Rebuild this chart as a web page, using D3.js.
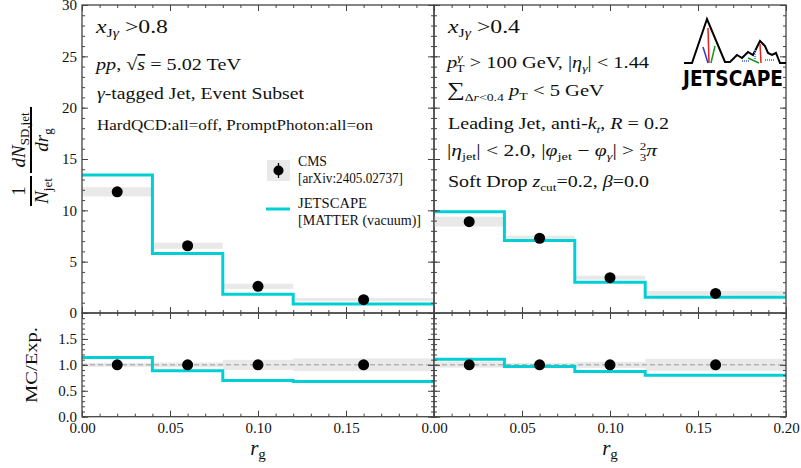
<!DOCTYPE html>
<html>
<head>
<meta charset="utf-8">
<script src="https://cdn.jsdelivr.net/npm/d3@7"></script>
<style>
  html, body { margin: 0; padding: 0; background: #fff; }
  svg text { font-family: "Liberation Serif", "DejaVu Serif", serif; fill: #111; }
</style>
</head>
<body>
<svg id="chart" width="801" height="468"></svg>
<script>
// r_g bins (edges) and bin centres
const binEdges = [0, 0.04, 0.08, 0.12, 0.20];
const binCentres = [0.02, 0.06, 0.10, 0.16];

// x_Jγ > 0.8 panel
const cmsA = [11.8, 6.55, 2.6, 1.3];
const cmsAErr = [0.45, 0.3, 0.25, 0.16];
const jsA = [13.45, 5.8, 1.82, 0.88];

// x_Jγ > 0.4 panel
const cmsB = [8.9, 7.28, 3.44, 1.91];
const cmsBErr = [0.48, 0.25, 0.2, 0.22];
const jsB = [9.85, 7.05, 3.0, 1.53];

const yTicksMain = [0, 5, 10, 15, 20, 25, 30];
const yTicksRatio = [0.0, 0.5, 1.0, 1.5];
const xTicks = [0.00, 0.05, 0.10, 0.15, 0.20];

const CYAN = "#00cfd6";
const BAND = "#e9e9e9";
const FRAME = "#444";

const svg = d3.select("#chart");

const yMain = d3.scaleLinear().domain([0, 30]).range([313, 5]);
const yRat = d3.scaleLinear().domain([0, 2]).range([416.7, 313]);

const panels = [
  { x0: 82, x1: 434, cms: cmsA, err: cmsAErr, js: jsA, yLabels: true, lastX: false },
  { x0: 434, x1: 786, cms: cmsB, err: cmsBErr, js: jsB, yLabels: false, lastX: true }
];

function drawAxes(g, x, y, yMajor, yMinorStep, yFmt, showY, showX, lastX) {
  const [yLo, yHi] = y.domain();
  const yMinor = d3.range(yLo, yHi + 1e-9, yMinorStep);
  const xMinor = d3.range(0, 0.2001, 0.01);
  const [r0, r1] = x.range();
  const [b, t] = y.range();

  g.append("g").attr("transform", `translate(${r0},0)`)
    .call(d3.axisLeft(y).tickValues(yMajor).tickSize(-6).tickSizeOuter(0).tickPadding(5)
      .tickFormat(showY ? yFmt : ""));
  g.append("g").attr("transform", `translate(${r0},0)`)
    .call(d3.axisLeft(y).tickValues(yMinor).tickSize(-3).tickSizeOuter(0).tickFormat(""));
  g.append("g").attr("transform", `translate(${r1},0)`)
    .call(d3.axisRight(y).tickValues(yMajor).tickSize(-6).tickSizeOuter(0).tickFormat(""));
  g.append("g").attr("transform", `translate(${r1},0)`)
    .call(d3.axisRight(y).tickValues(yMinor).tickSize(-3).tickSizeOuter(0).tickFormat(""));
  const xs = lastX ? xTicks : xTicks.slice(0, -1);
  g.append("g").attr("transform", `translate(0,${b})`)
    .call(d3.axisBottom(x).tickValues(xTicks).tickSize(-6).tickSizeOuter(0).tickPadding(6)
      .tickFormat(d => (showX && xs.some(v => Math.abs(v - d) < 1e-9)) ? d3.format(".2f")(d) : ""));
  g.append("g").attr("transform", `translate(0,${b})`)
    .call(d3.axisBottom(x).tickValues(xMinor).tickSize(-3).tickSizeOuter(0).tickFormat(""));
  g.append("g").attr("transform", `translate(0,${t})`)
    .call(d3.axisTop(x).tickValues(xTicks).tickSize(-6).tickSizeOuter(0).tickFormat(""));
  g.append("g").attr("transform", `translate(0,${t})`)
    .call(d3.axisTop(x).tickValues(xMinor).tickSize(-3).tickSizeOuter(0).tickFormat(""));

  g.selectAll(".domain").remove();
  g.selectAll(".tick line").attr("stroke", FRAME).attr("stroke-width", 1);
  g.selectAll(".tick text").attr("font-family", "Liberation Serif, serif").attr("font-size", 15).attr("fill", "#222");

  g.append("rect").attr("x", r0).attr("y", t).attr("width", r1 - r0).attr("height", b - t)
    .attr("fill", "none").attr("stroke", FRAME).attr("stroke-width", 1.3);
}

const stepLine = (x, y) => d3.line().x(d => x(d[0])).y(d => y(d[1])).curve(d3.curveStepAfter);

panels.forEach(p => {
  const x = d3.scaleLinear().domain([0, 0.2]).range([p.x0, p.x1]);
  const rows = binCentres.map((c, i) => ({
    c, lo: binEdges[i], hi: binEdges[i + 1], v: p.cms[i], e: p.err[i], m: p.js[i]
  }));

  // main distribution
  const gm = svg.append("g");
  gm.selectAll("rect.band").data(rows).join("rect").attr("class", "band")
    .attr("x", d => x(d.lo)).attr("width", d => x(d.hi) - x(d.lo))
    .attr("y", d => yMain(d.v + d.e)).attr("height", d => yMain(d.v - d.e) - yMain(d.v + d.e))
    .attr("fill", BAND);
  const stepData = rows.map(d => [d.lo, d.m]).concat([[binEdges[binEdges.length - 1], rows[rows.length - 1].m]]);
  gm.append("path").datum(stepData).attr("d", stepLine(x, yMain))
    .attr("fill", "none").attr("stroke", CYAN).attr("stroke-width", 3);
  gm.selectAll("circle").data(rows).join("circle")
    .attr("cx", d => x(d.c)).attr("cy", d => yMain(d.v)).attr("r", 5.5).attr("fill", "#000");
  drawAxes(gm, x, yMain, yTicksMain, 1, d3.format("d"), p.yLabels, false, p.lastX);

  // ratio MC / data
  const gr = svg.append("g");
  gr.selectAll("rect.band").data(rows).join("rect").attr("class", "band")
    .attr("x", d => x(d.lo)).attr("width", d => x(d.hi) - x(d.lo))
    .attr("y", d => yRat(1 + d.e / d.v)).attr("height", d => yRat(1 - d.e / d.v) - yRat(1 + d.e / d.v))
    .attr("fill", BAND);
  gr.append("line").attr("x1", p.x0).attr("x2", p.x1).attr("y1", yRat(1)).attr("y2", yRat(1))
    .attr("stroke", "#888").attr("stroke-width", 0.8).attr("stroke-dasharray", "5,3");
  const ratioData = rows.map(d => [d.lo, d.m / d.v]).concat([[binEdges[binEdges.length - 1], rows[rows.length - 1].m / rows[rows.length - 1].v]]);
  gr.append("path").datum(ratioData).attr("d", stepLine(x, yRat))
    .attr("fill", "none").attr("stroke", CYAN).attr("stroke-width", 3);
  gr.selectAll("circle").data(rows).join("circle")
    .attr("cx", d => x(d.c)).attr("cy", yRat(1)).attr("r", 5.5).attr("fill", "#000");
  drawAxes(gr, x, yRat, yTicksRatio, 0.1, d3.format(".1f"), p.yLabels, true, p.lastX);

  // x label
  svg.append("text").attr("x", (p.x0 + p.x1) / 2).attr("y", 455).attr("text-anchor", "middle")
    .attr("font-size", 21)
    .html('<tspan font-style="italic">r</tspan><tspan font-size="15" dy="4">g</tspan>');
});

// y labels
const yl = svg.append("g").attr("transform", "translate(31,0) rotate(-90)");
yl.append("text").attr("x", -191).attr("y", -6).attr("text-anchor", "middle").attr("font-size", 19).text("1");
yl.append("line").attr("x1", -206).attr("x2", -176).attr("y1", 0).attr("y2", 0).attr("stroke", "#000").attr("stroke-width", 2);
yl.append("text").attr("x", -191).attr("y", 17).attr("text-anchor", "middle").attr("font-size", 19)
  .html('<tspan font-style="italic">N</tspan><tspan font-size="13" dy="4">jet</tspan>');
yl.append("text").attr("x", -140).attr("y", -6).attr("text-anchor", "middle").attr("font-size", 19)
  .html('<tspan font-style="italic">dN</tspan><tspan font-size="13" dy="4">SD,jet</tspan>');
yl.append("line").attr("x1", -173).attr("x2", -107).attr("y1", 0).attr("y2", 0).attr("stroke", "#000").attr("stroke-width", 2);
yl.append("text").attr("x", -140).attr("y", 17).attr("text-anchor", "middle").attr("font-size", 19)
  .html('<tspan font-style="italic">dr</tspan><tspan font-size="13" dy="4">g</tspan>');

svg.append("text").attr("transform", "translate(37,365) rotate(-90)").attr("text-anchor", "middle")
  .attr("font-size", 17).attr("textLength", 76).attr("lengthAdjust", "spacingAndGlyphs").text("MC/Exp.");

// annotation text; each line stretched to its typeset width
function note(x, y, size, width, html) {
  svg.append("text").attr("x", x).attr("y", y).attr("font-size", size)
    .attr("textLength", width).attr("lengthAdjust", "spacingAndGlyphs").html(html);
}
const I = s => `<tspan font-style="italic">${s}</tspan>`;

note(96, 33, 18, 72,
  `${I("x")}<tspan font-size="12" dy="4">J</tspan><tspan font-size="12" font-style="italic">γ</tspan><tspan dy="-4"> &gt;0.8</tspan>`);
note(96, 70, 17, 145,
  `${I("pp")}, √<tspan font-style="italic" text-decoration="overline">s</tspan> = 5.02 TeV`);
note(97, 99, 17, 207, `${I("γ")}-tagged Jet, Event Subset`);
note(97, 130, 14.5, 276, `HardQCD:all=off, PromptPhoton:all=on`);

note(448, 33, 18, 72,
  `${I("x")}<tspan font-size="12" dy="4">J</tspan><tspan font-size="12" font-style="italic">γ</tspan><tspan dy="-4"> &gt;0.4</tspan>`);
note(447, 68, 16.5, 202,
  `${I("p")}<tspan font-size="11" font-style="italic" dy="-7">γ</tspan><tspan font-size="11" dx="-5" dy="11">T</tspan><tspan dy="-4"> &gt; 100 GeV, |</tspan>${I("η")}<tspan font-size="11" font-style="italic" dy="4">γ</tspan><tspan dy="-4">| &lt; 1.44</tspan>`);
note(447, 96, 16.5, 157,
  `<tspan font-size="20">∑</tspan><tspan font-size="11" dy="5">Δ</tspan><tspan font-size="11" font-style="italic">r</tspan><tspan font-size="11">&lt;0.4</tspan><tspan dy="-5"> </tspan>${I("p")}<tspan font-size="11" dy="4">T</tspan><tspan dy="-4"> &lt; 5 GeV</tspan>`);
note(448, 129, 16.5, 221,
  `Leading Jet, anti-${I("k")}<tspan font-size="11" font-style="italic" dy="4">t</tspan><tspan dy="-4">, </tspan>${I("R")} = 0.2`);
note(447, 156, 16.5, 210,
  `|${I("η")}<tspan font-size="11" dy="4">jet</tspan><tspan dy="-4">| &lt; 2.0, |</tspan>${I("φ")}<tspan font-size="11" dy="4">jet</tspan><tspan dy="-4"> − </tspan>${I("φ")}<tspan font-size="11" font-style="italic" dy="4">γ</tspan><tspan dy="-4">| &gt; </tspan><tspan font-size="10" dy="-6">2</tspan><tspan font-size="10" dx="-5" dy="11">3</tspan><tspan dy="-5" font-style="italic">π</tspan>`);
note(448, 187, 16.5, 201,
  `Soft Drop ${I("z")}<tspan font-size="11" dy="4">cut</tspan><tspan dy="-4">=0.2, </tspan>${I("β")}=0.0`);

// legend
const lg = svg.append("g");
lg.append("rect").attr("x", 267).attr("y", 160).attr("width", 23).attr("height", 21).attr("fill", BAND);
lg.append("line").attr("x1", 278.5).attr("x2", 278.5).attr("y1", 163).attr("y2", 178).attr("stroke", "#000").attr("stroke-width", 1.3);
lg.append("circle").attr("cx", 278.5).attr("cy", 170.5).attr("r", 5).attr("fill", "#000");
function legText(y, w, s) {
  lg.append("text").attr("x", 298).attr("y", y).attr("font-size", 14)
    .attr("textLength", w).attr("lengthAdjust", "spacingAndGlyphs").text(s);
}
legText(166, 29, "CMS");
legText(183, 105, "[arXiv:2405.02737]");
lg.append("line").attr("x1", 266).attr("x2", 290).attr("y1", 209).attr("y2", 209).attr("stroke", CYAN).attr("stroke-width", 3);
legText(208, 69, "JETSCAPE");
legText(225, 123, "[MATTER (vacuum)]");

// JETSCAPE logo
const logo = svg.append("g");
logo.append("path")
  .attr("d", "M684,63 L692,63 L707,19 L725,62 L730,62 L737,55 L742,58 L748,52 L753,55 L760,41 L765,46 L768,53 L772,55 L776,53 L780,63 L786,63")
  .attr("fill", "none").attr("stroke", "#000").attr("stroke-width", 2);
logo.append("line").attr("x1", 708).attr("y1", 28).attr("x2", 709).attr("y2", 63).attr("stroke", "#e62020").attr("stroke-width", 1.5);
logo.append("line").attr("x1", 703).attr("y1", 47).attr("x2", 708).attr("y2", 63).attr("stroke", "#2a3ee0").attr("stroke-width", 1.5);
logo.append("line").attr("x1", 711).attr("y1", 63).attr("x2", 715).attr("y2", 46).attr("stroke", "#1a9a1a").attr("stroke-width", 1.5);
logo.append("line").attr("x1", 760).attr("y1", 44).attr("x2", 761).attr("y2", 63).attr("stroke", "#e62020").attr("stroke-width", 1.5);
logo.append("line").attr("x1", 748).attr("y1", 58).attr("x2", 759).attr("y2", 63).attr("stroke", "#1a9a1a").attr("stroke-width", 1.5);
logo.append("path").attr("d", "M742,61 L750,61 M755,50 L755,60 M765,60 L774,60")
  .attr("stroke", "#6a8cf0").attr("stroke-width", 2).attr("stroke-dasharray", "1,1").attr("fill", "none");
logo.append("text").attr("x", 683).attr("y", 86)
  .attr("font-weight", "bold").attr("font-size", 21).attr("textLength", 100).attr("lengthAdjust", "spacingAndGlyphs")
  .style("font-family", "'DejaVu Sans', sans-serif").style("fill", "#000").text("JETSCAPE");
</script>
</body>
</html>
